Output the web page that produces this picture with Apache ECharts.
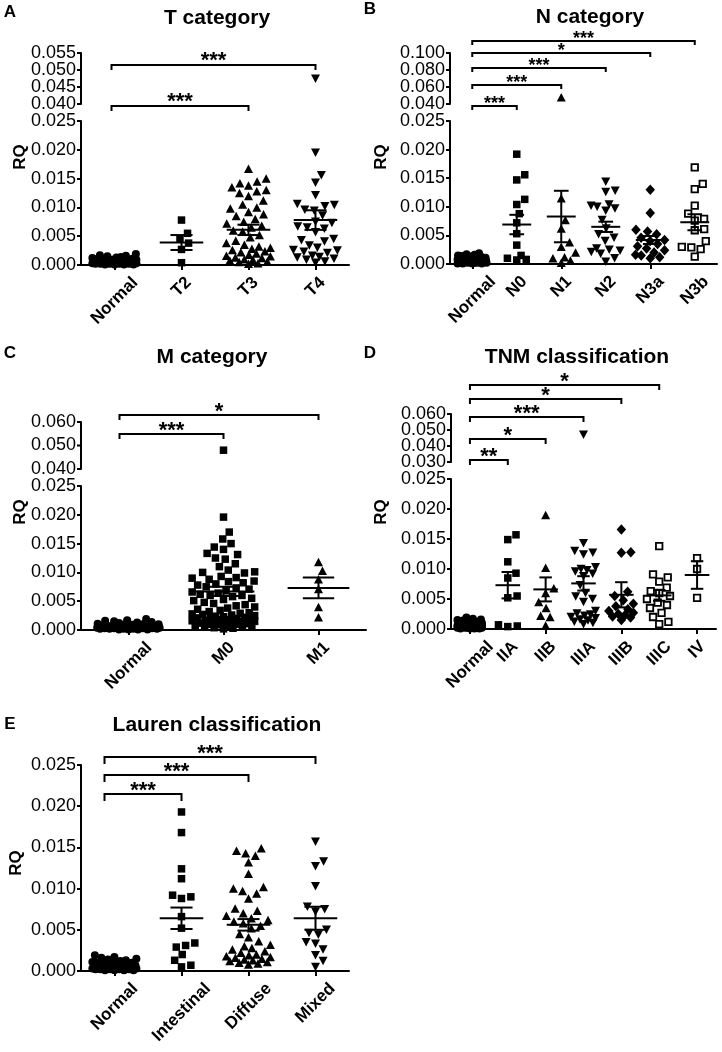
<!DOCTYPE html>
<html><head><meta charset="utf-8">
<script src="https://cdn.jsdelivr.net/npm/echarts@6/dist/echarts.min.js"></script>
<style>html,body{margin:0;padding:0;background:#fff}#c{width:722px;height:1052px}</style>
</head><body><div id="c"></div>
<script>
// ---------------- DATA ----------------
const normalRQ = [0.0019,0.0017,0.0016,0.0015,0.0014,0.0013,0.0012,0.0011,0.0010,0.0010,0.0009,0.0009,0.0008,0.0008,0.0007,0.0007,0.0007,0.0006,0.0006,0.0006,0.0005,0.0005,0.0005,0.0004,0.0004,0.0004,0.0004,0.0003,0.0003,0.0003,0.0003,0.0002,0.0002,0.0002,0.0002,0.0002,0.0001,0.0001,0.0001,0.0001];

// A: T category
const catsA = ['Normal','T2','T3','T4'];
const t2RQ = [0.0078,0.0055,0.0045,0.0038,0.0027,0.0004];
const t3RQ = [0.0167,0.0150,0.0145,0.0142,0.0138,0.0135,0.0130,0.0128,0.0125,0.0120,0.0112,0.0105,0.0100,0.0098,0.0092,0.0088,0.0085,0.0080,0.0075,0.0072,0.0068,0.0065,0.0060,0.0058,0.0052,0.0048,0.0042,0.0038,0.0035,0.0032,0.0030,0.0028,0.0026,0.0024,0.0022,0.0020,0.0018,0.0016,0.0015,0.0013,0.0012,0.0010,0.0009,0.0008,0.0006,0.0005,0.0003,0.0002];
const t4RQ = [0.0474,0.0195,0.0156,0.0143,0.0121,0.0106,0.0104,0.0102,0.0096,0.0094,0.0086,0.0075,0.0073,0.0067,0.0065,0.0063,0.0057,0.0045,0.0043,0.0041,0.0034,0.0030,0.0026,0.0025,0.0023,0.0021,0.0016,0.0014,0.0013,0.0011,0.0009,0.0006,0.0004];
const meanA = [0.0006,0.0039,0.0061,0.0078];
const semA  = [0.0001,0.0013,0.0009,0.0017];
const sigA  = ['***','***'];
const upperTicksA = [0.040,0.045,0.050,0.055];

// B: N category
const catsB = ['Normal','N0','N1','N2','N3a','N3b'];
const n0RQ = [0.0192,0.0156,0.0147,0.0113,0.0104,0.0088,0.0072,0.0053,0.0033,0.0015,0.0010,0.0008,0.0007];
const n1RQ = [0.0480,0.0115,0.0077,0.0062,0.0038,0.0030,0.0020,0.0012,0.0010,0.0006,0.0002];
const n2RQ = [0.0144,0.0128,0.0126,0.0104,0.0102,0.0100,0.0097,0.0093,0.0077,0.0062,0.0052,0.0046,0.0040,0.0027,0.0025,0.0023,0.0021,0.0018,0.0010,0.0004];
const n3aRQ = [0.0130,0.0089,0.0060,0.0057,0.0052,0.0046,0.0042,0.0040,0.0035,0.0031,0.0027,0.0024,0.0020,0.0016,0.0015,0.0012,0.0010];
const n3bRQ = [0.0169,0.0140,0.0131,0.0102,0.0088,0.0079,0.0076,0.0061,0.0059,0.0040,0.0030,0.0029,0.0026,0.0013];
const meanB = [0.0006,0.0069,0.0083,0.0065,0.0042,0.0073];
const semB  = [0.0001,0.0017,0.0045,0.0009,0.0007,0.0014];
const sigB  = ['***','*','***','***','***'];
const upperTicksB = [0.040,0.060,0.080,0.100];

// C: M category
const catsC = ['Normal','M0','M1'];
const m0RQ = [0.0480,0.0196,0.0170,0.0158,0.0150,0.0144,0.0140,0.0133,0.0131,0.0125,0.0123,0.0115,0.0110,0.0104,0.0101,0.0100,0.0099,0.0093,0.0091,0.0090,0.0088,0.0085,0.0084,0.0082,0.0080,0.0078,0.0075,0.0073,0.0071,0.0068,0.0066,0.0064,0.0062,0.0060,0.0060,0.0058,0.0055,0.0053,0.0051,0.0048,0.0046,0.0044,0.0042,0.0040,0.0038,0.0036,0.0034,0.0032,0.0030,0.0029,0.0028,0.0027,0.0026,0.0025,0.0024,0.0023,0.0022,0.0021,0.0020,0.0020,0.0019,0.0018,0.0018,0.0017,0.0016,0.0015,0.0015,0.0014,0.0013,0.0012,0.0012,0.0011,0.0010,0.0010,0.0009,0.0008,0.0008,0.0007,0.0006,0.0005,0.0004,0.0003,0.0002];
const m1RQ = [0.0118,0.0103,0.0088,0.0071,0.0040,0.0022];
const meanC = [0.0006,0.0067,0.0073];
const semC  = [0.0001,0.0008,0.0018];
const sigC  = ['*','***'];
const upperTicksC = [0.040,0.050,0.060];

// D: TNM classification
const catsD = ['Normal','IIA','IIB','IIIA','IIIB','IIIC','IV'];
const iiaRQ = [0.0157,0.0149,0.0112,0.0093,0.0085,0.0055,0.0052,0.0007,0.0005,0.0004];
const iibRQ = [0.0190,0.0102,0.0068,0.0060,0.0045,0.0035,0.0022,0.0020,0.0006];
const iiiaRQ = [0.0470,0.0143,0.0130,0.0127,0.0124,0.0103,0.0100,0.0098,0.0096,0.0092,0.0088,0.0073,0.0060,0.0054,0.0050,0.0045,0.0030,0.0026,0.0024,0.0022,0.0020,0.0018,0.0016,0.0014,0.0012,0.0010,0.0008];
const iiibRQ = [0.0166,0.0128,0.0127,0.0062,0.0055,0.0048,0.0042,0.0038,0.0033,0.0030,0.0027,0.0025,0.0023,0.0021,0.0019,0.0015];
const iiicRQ = [0.0138,0.0091,0.0086,0.0079,0.0069,0.0063,0.0060,0.0055,0.0050,0.0044,0.0040,0.0035,0.0027,0.0020,0.0012,0.0008];
const ivRQ = [0.0118,0.0100,0.0052];
const meanD = [0.0006,0.0073,0.0066,0.0076,0.0057,0.0056,0.0090];
const semD  = [0.0001,0.0022,0.0020,0.0012,0.0021,0.0009,0.0023];
const sigD  = ['*','*','***','*','**'];
const upperTicksD = [0.030,0.040,0.050,0.060];

// E: Lauren classification
const catsE = ['Normal','Intestinal','Diffuse','Mixed'];
const intestinalRQ = [0.0193,0.0168,0.0124,0.0112,0.0092,0.0090,0.0088,0.0066,0.0052,0.0034,0.0031,0.0029,0.0020,0.0013,0.0007,0.0005];
const diffuseRQ = [0.0149,0.0146,0.0143,0.0140,0.0132,0.0118,0.0102,0.0100,0.0097,0.0094,0.0088,0.0076,0.0073,0.0070,0.0067,0.0064,0.0062,0.0060,0.0058,0.0055,0.0052,0.0045,0.0041,0.0036,0.0032,0.0030,0.0028,0.0026,0.0024,0.0022,0.0020,0.0019,0.0018,0.0017,0.0016,0.0015,0.0014,0.0013,0.0012,0.0011,0.0010,0.0009,0.0008];
const mixedRQ = [0.0157,0.0133,0.0127,0.0103,0.0078,0.0075,0.0072,0.0050,0.0046,0.0044,0.0035,0.0033,0.0026,0.0019,0.0012,0.0005];
const meanE = [0.0006,0.0064,0.0056,0.0064];
const semE  = [0.0001,0.0013,0.0007,0.0014];
const sigE  = ['***','***','***'];

// ---------------- LAYOUT / STYLE ----------------
const FONT = "'Liberation Sans', Arial, Helvetica, sans-serif";
const SYM = {
  circle:   {symbol:'circle', size:8},
  rect:     {symbol:'rect', size:7.5},
  triangle: {symbol:'triangle', size:[9,8.5]},
  invtri:   {symbol:'triangle', size:[9,8.5], rotate:180},
  diamond:  {symbol:'diamond', size:[9.5,10.5]},
  openrect: {symbol:'rect', size:6.5, fill:'#fff', border:1.8}
};
const panels = [
  {letter:'A', title:'T category', cats:catsA, groups:[normalRQ,t2RQ,t3RQ,t4RQ], mean:meanA, sem:semA, sig:sigA,
   symbols:['circle','rect','triangle','invtri'],
   lower:{left:81, top:121, width:268, height:144, min:0, max:0.025, interval:0.005},
   upper:{top:53, height:51, min:0.04, max:0.055, interval:0.005, ticks:upperTicksA},
   br:{to:[3,2], y:[0.0515,0.0394], left:-3, drop:5, star:22, starGap:9},
   letterPos:[10,12], titlePos:[217,18], rqPos:[20,157]},
  {letter:'B', title:'N category', cats:catsB, groups:[normalRQ,n0RQ,n1RQ,n2RQ,n3aRQ,n3bRQ], mean:meanB, sem:semB, sig:sigB,
   symbols:['circle','rect','triangle','invtri','diamond','openrect'],
   lower:{left:450, top:121, width:267, height:143, min:0, max:0.025, interval:0.005},
   upper:{top:53, height:51, min:0.04, max:0.1, interval:0.02, ticks:upperTicksB},
   br:{to:[5,4,3,2,1], y:[0.1141,0.1000,0.0824,0.0624,0.0376], left:0, drop:4, star:18, starGap:6},
   letterPos:[370,9], titlePos:[590,17], rqPos:[381,157]},
  {letter:'C', title:'M category', cats:catsC, groups:[normalRQ,m0RQ,m1RQ], mean:meanC, sem:semC, sig:sigC,
   symbols:['circle','rect','triangle'],
   lower:{left:81, top:486, width:285, height:144, min:0, max:0.025, interval:0.005},
   upper:{top:422, height:47, min:0.04, max:0.06, interval:0.01, ticks:upperTicksC},
   br:{to:[2,1], y:[0.0630,0.0549], left:-9, drop:5, star:22, starGap:8},
   letterPos:[10,353], titlePos:[212,357], rqPos:[20,512]},
  {letter:'D', title:'TNM classification', cats:catsD, groups:[normalRQ,iiaRQ,iibRQ,iiiaRQ,iiibRQ,iiicRQ,ivRQ], mean:meanD, sem:semD, sig:sigD,
   symbols:['circle','rect','triangle','invtri','diamond','openrect','openrect'],
   lower:{left:451, top:479, width:265, height:150, min:0, max:0.025, interval:0.005},
   upper:{top:414, height:48, min:0.03, max:0.06, interval:0.01, ticks:upperTicksD},
   br:{to:[5,4,3,2,1], y:[0.0781,0.0694,0.0581,0.0444,0.0313], left:0, drop:5, star:22, starGap:8},
   letterPos:[370,353], titlePos:[577,357], rqPos:[381,512]},
  {letter:'E', title:'Lauren classification', cats:catsE, groups:[normalRQ,intestinalRQ,diffuseRQ,mixedRQ], mean:meanE, sem:semE, sig:sigE,
   symbols:['circle','rect','triangle','invtri'],
   lower:{left:81, top:765, width:268, height:206, min:0, max:0.025, interval:0.005},
   upper:null,
   br:{to:[3,2,1], y:[0.02597,0.02379,0.02148], left:-10, drop:7, star:22, starGap:8},
   letterPos:[10,724], titlePos:[217,725], rqPos:[16,863]}
];

// ---------------- helpers ----------------
const measureCtx = document.createElement('canvas').getContext('2d');
const LABEL_FONT = 'bold 17px ' + FONT;
function textWidth(t, font){ measureCtx.font = font; return measureCtx.measureText(t).width; }

// deterministic beeswarm layout (pixel offsets)
function beeswarm(vals, scale, D, maxHalf){
  const order = vals.map((v,i)=>i).sort((a,b)=>vals[a]-vals[b]);
  const placed = []; const out = new Array(vals.length);
  for (const i of order){
    const y = vals[i]*scale;
    const cands = [0];
    for (const p of placed){ const dy = Math.abs(p.y-y); if (dy < D){ const dx = Math.sqrt(D*D-dy*dy); cands.push(p.x+dx, p.x-dx);} }
    const ok = c => placed.every(p => (p.x-c)*(p.x-c)+(p.y-y)*(p.y-y) >= D*D-0.01);
    let best = null;
    for (const c of cands){ if (Math.abs(c) <= maxHalf+1e-6 && ok(c)){ if (best===null || Math.abs(c) < Math.abs(best)-1e-6) best = c; } }
    if (best === null){
      let bs = -1;
      for (let c=-maxHalf; c<=maxHalf+1e-6; c+=0.5){
        let m = Infinity; for (const p of placed) m = Math.min(m,(p.x-c)*(p.x-c)+(p.y-y)*(p.y-y));
        if (m > bs+1e-6 || (Math.abs(m-bs)<1e-6 && Math.abs(c)<Math.abs(best))){ bs = m; best = c; }
      }
    }
    placed.push({x:best,y}); out[i] = best;
  }
  return out;
}

const grid = [], xAxis = [], yAxis = [], series = [], graphics = [];
const axisLineStyle = {color:'#000', width:2};
function yAx(gi, cfg, own){
  return {gridIndex:gi, type:'value', min:cfg.min, max:cfg.max, interval:cfg.interval,
    axisLine:{show:true, lineStyle:axisLineStyle}, axisTick:{show:!own, length:4, lineStyle:axisLineStyle},
    splitLine:{show:false},
    axisLabel:{show:!own, margin:5, fontSize:18, fontFamily:FONT, color:'#000', formatter:v=>v.toFixed(3)}};
}

panels.forEach(P=>{
  const n = P.cats.length;
  const band = P.lower.width/n;
  const maxHalf = band*0.33;
  const lowGi = grid.length;
  grid.push({left:P.lower.left, top:P.lower.top, width:P.lower.width, height:P.lower.height});
  xAxis.push({gridIndex:lowGi, type:'category', data:P.cats, boundaryGap:true,
    axisLine:{show:true, lineStyle:axisLineStyle}, axisTick:{show:true, alignWithLabel:true, length:5, lineStyle:axisLineStyle},
    axisLabel:{show:false}, splitLine:{show:false}});
  yAxis.push(yAx(lowGi, P.lower, false));
  let upGi = null;
  if (P.upper){
    upGi = grid.length;
    grid.push({left:P.lower.left, top:P.upper.top, width:P.lower.width, height:P.upper.height});
    xAxis.push({gridIndex:upGi, type:'category', data:P.cats, boundaryGap:true, show:false});
    yAxis.push(yAx(upGi, P.upper, true));
    // tick marks + labels of the upper (broken) segment, placed through the axis scale
    series.push({type:'custom', xAxisIndex:upGi, yAxisIndex:upGi, z:6, silent:true, clip:false,
      data: P.upper.ticks.map(v=>[0, v]),
      renderItem:(params, api)=>{
        const v = api.value(1); const p = api.coord([0, v]); const b = api.size([1,0])[0];
        const ax = p[0] - b/2;
        return {type:'group', children:[
          {type:'line', shape:{x1:ax-4, y1:p[1], x2:ax, y2:p[1]}, style:{stroke:'#000', lineWidth:2}},
          {type:'text', x:ax-5, y:p[1], style:{text:v.toFixed(3), font:'18px '+FONT, fill:'#000', align:'right', verticalAlign:'middle'}}
        ]};
      }});
  }
  const lowScale = P.lower.height/(P.lower.max-P.lower.min);
  const upScale = P.upper ? P.upper.height/(P.upper.max-P.upper.min) : 0;

  P.groups.forEach((vals, gi)=>{
    const s = SYM[P.symbols[gi]];
    const lowVals = vals.filter(v=>v<=P.lower.max);
    const upVals = vals.filter(v=>v>P.lower.max);
    const mk = (vs, scale, min, gIdx)=>{
      const offs = beeswarm(vs.map(v=>v-min), scale, 9.5, maxHalf);
      series.push({type:'scatter', xAxisIndex:gIdx, yAxisIndex:gIdx, z:2, silent:true,
        symbol:s.symbol, symbolSize:s.size, symbolRotate:s.rotate||0,
        itemStyle:{color:s.fill||'#000', borderColor:'#000', borderWidth:s.border||0, opacity:1},
        data: vs.map((v,k)=>({value:[gi, v], symbolOffset:[offs[k],0]}))});
    };
    if (lowVals.length) mk(lowVals, lowScale, P.lower.min, lowGi);
    if (upVals.length && P.upper) mk(upVals, upScale, P.upper.min, upGi);
  });

  // mean +- SEM
  series.push({type:'custom', xAxisIndex:lowGi, yAxisIndex:lowGi, z:5, silent:true, clip:false,
    data: P.mean.map((m,i)=>[i, m, P.sem[i]]),
    renderItem:(params, api)=>{
      const i = api.value(0), m = api.value(1), s = api.value(2);
      const c = api.coord([i, m]); const b = api.size([1,0])[0];
      const yt = api.coord([i, m+s])[1], yb = api.coord([i, Math.max(0,m-s)])[1];
      const st = {stroke:'#000', lineWidth:2};
      return {type:'group', children:[
        {type:'line', shape:{x1:c[0]-0.325*b, y1:c[1], x2:c[0]+0.325*b, y2:c[1]}, style:st},
        {type:'line', shape:{x1:c[0]-0.165*b, y1:yt, x2:c[0]+0.165*b, y2:yt}, style:st},
        {type:'line', shape:{x1:c[0]-0.165*b, y1:yb, x2:c[0]+0.165*b, y2:yb}, style:st},
        {type:'line', shape:{x1:c[0], y1:yt, x2:c[0], y2:yb}, style:st}
      ]};
    }});

  // significance brackets
  const bgi = upGi!==null ? upGi : lowGi;
  const br = P.br;
  series.push({type:'custom', xAxisIndex:bgi, yAxisIndex:bgi, z:5, silent:true, clip:false,
    data: br.to.map((t,k)=>[0, br.y[k], t, k]),
    renderItem:(params, api)=>{
      const y = api.value(1), t = api.value(2), k = api.value(3);
      const p0 = api.coord([0, y]); const p1 = api.coord([t, y]);
      const x0 = p0[0]+br.left, x1 = p1[0], yy = p0[1];
      const st = {stroke:'#000', lineWidth:2, fill:null};
      return {type:'group', children:[
        {type:'polyline', shape:{points:[[x0,yy+br.drop],[x0,yy],[x1,yy],[x1,yy+br.drop]]}, style:st},
        {type:'text', x:(x0+x1)/2, y:yy - br.starGap + 0.23*br.star,
          style:{text:P.sig[k], font:'bold '+br.star+'px '+FONT, fill:'#000', align:'center', verticalAlign:'middle'}}
      ]};
    }});

  // rotated category labels
  series.push({type:'custom', xAxisIndex:lowGi, yAxisIndex:lowGi, z:5, silent:true, clip:false,
    data: P.cats.map((c,i)=>[i, P.lower.min]),
    renderItem:(params, api)=>{
      const i = api.value(0); const p = api.coord([i, P.lower.min]);
      const txt = P.cats[i]; const L = textWidth(txt, LABEL_FONT);
      return {type:'text', x:p[0]+0.354*L, y:p[1]+15, rotation:Math.PI/4,
        style:{text:txt, font:LABEL_FONT, fill:'#000', align:'right', verticalAlign:'middle'}};
    }});

  graphics.push({type:'text', x:P.letterPos[0], y:P.letterPos[1], style:{text:P.letter, font:'bold 17px '+FONT, fill:'#000', align:'center', verticalAlign:'middle'}});
  graphics.push({type:'text', x:P.titlePos[0], y:P.titlePos[1], style:{text:P.title, font:'bold 21px '+FONT, fill:'#000', align:'center', verticalAlign:'middle'}});
  graphics.push({type:'text', x:P.rqPos[0], y:P.rqPos[1], rotation:Math.PI/2, style:{text:'RQ', font:'bold 17px '+FONT, fill:'#000', align:'center', verticalAlign:'middle'}});
});

const chart = echarts.init(document.getElementById('c'), null, {renderer:'canvas'});
chart.setOption({animation:false, backgroundColor:'#fff', grid, xAxis, yAxis, series, graphic:{elements:graphics}});
</script></body></html>
